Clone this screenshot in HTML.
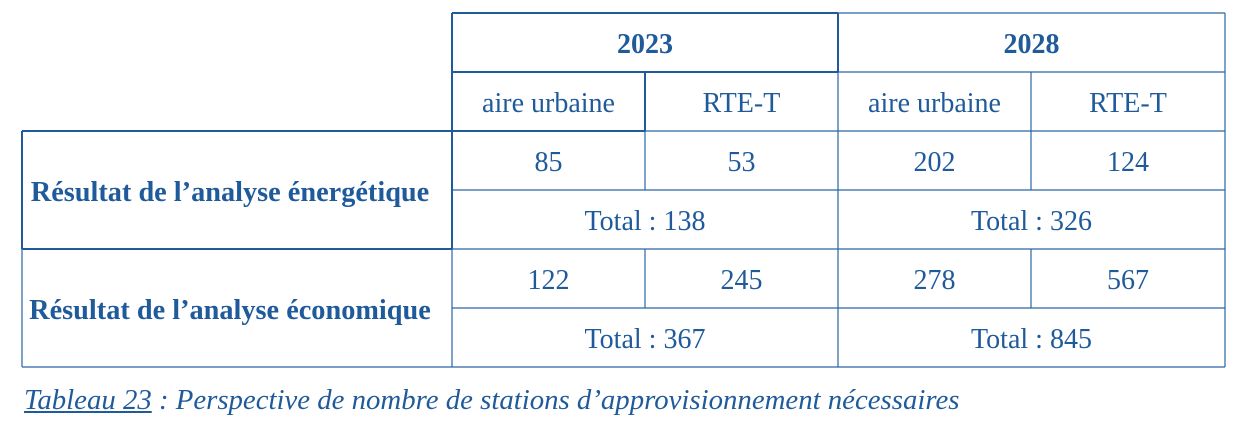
<!DOCTYPE html><html><head><style>
body{margin:0;width:1240px;height:432px;background:#fff;position:relative;font-family:"Liberation Serif",serif;color:#1f5a9a;overflow:hidden}
.t{position:absolute;text-align:center;font-size:28px;line-height:59px;white-space:nowrap;margin-top:2px}
.b{font-weight:bold}
</style></head><body>
<svg width="1240" height="432" style="position:absolute;left:0;top:0">
<g stroke="#2a65a5" stroke-width="1.2" fill="none">
<line x1="838" y1="13" x2="1225" y2="13"/>
<line x1="1225" y1="13" x2="1225" y2="367"/>
<line x1="838" y1="72" x2="1225" y2="72"/>
<line x1="645" y1="131" x2="1225" y2="131"/>
<line x1="452" y1="190" x2="1225" y2="190"/>
<line x1="452" y1="249" x2="1225" y2="249"/>
<line x1="452" y1="308" x2="1225" y2="308"/>
<line x1="22" y1="367" x2="1225" y2="367"/>
<line x1="1031" y1="72" x2="1031" y2="190"/>
<line x1="1031" y1="249" x2="1031" y2="308"/>
<line x1="645" y1="131" x2="645" y2="190"/>
<line x1="645" y1="249" x2="645" y2="308"/>
<line x1="838" y1="72" x2="838" y2="367"/>
<line x1="452" y1="249" x2="452" y2="367"/>
<line x1="22" y1="249" x2="22" y2="367"/>
</g>
<g stroke="#1f5a9a" stroke-width="2" fill="none">
<line x1="452" y1="13" x2="838" y2="13"/>
<line x1="452" y1="13" x2="452" y2="249"/>
<line x1="838" y1="13" x2="838" y2="72"/>
<line x1="452" y1="72" x2="838" y2="72"/>
<line x1="645" y1="72" x2="645" y2="131"/>
<line x1="22" y1="131" x2="645" y2="131"/>
<line x1="22" y1="131" x2="22" y2="249"/>
<line x1="22" y1="249" x2="452" y2="249"/>
</g>
</svg>
<div class="t b" style="left:452px;top:13px;width:386px">2023</div>
<div class="t b" style="left:838px;top:13px;width:387px">2028</div>
<div class="t" style="left:452px;top:72px;width:193px">aire urbaine</div>
<div class="t" style="left:645px;top:72px;width:193px">RTE-T</div>
<div class="t" style="left:838px;top:72px;width:193px">aire urbaine</div>
<div class="t" style="left:1031px;top:72px;width:194px">RTE-T</div>
<div class="t" style="left:452px;top:131px;width:193px">85</div>
<div class="t" style="left:645px;top:131px;width:193px">53</div>
<div class="t" style="left:838px;top:131px;width:193px">202</div>
<div class="t" style="left:1031px;top:131px;width:194px">124</div>
<div class="t" style="left:452px;top:190px;width:386px">Total : 138</div>
<div class="t" style="left:838px;top:190px;width:387px">Total : 326</div>
<div class="t" style="left:452px;top:249px;width:193px">122</div>
<div class="t" style="left:645px;top:249px;width:193px">245</div>
<div class="t" style="left:838px;top:249px;width:193px">278</div>
<div class="t" style="left:1031px;top:249px;width:194px">567</div>
<div class="t" style="left:452px;top:308px;width:386px">Total : 367</div>
<div class="t" style="left:838px;top:308px;width:387px">Total : 845</div>
<div class="t b" style="left:15px;top:161px;width:430px;font-size:28.3px">Résultat de l’analyse énergétique</div>
<div class="t b" style="left:15px;top:279px;width:430px;font-size:28.3px">Résultat de l’analyse économique</div>
<div style="position:absolute;left:24px;top:384px;font-size:28.8px;font-style:italic;white-space:nowrap"><u>Tableau 23</u> : Perspective de nombre de stations d’approvisionnement nécessaires</div>
</body></html>
